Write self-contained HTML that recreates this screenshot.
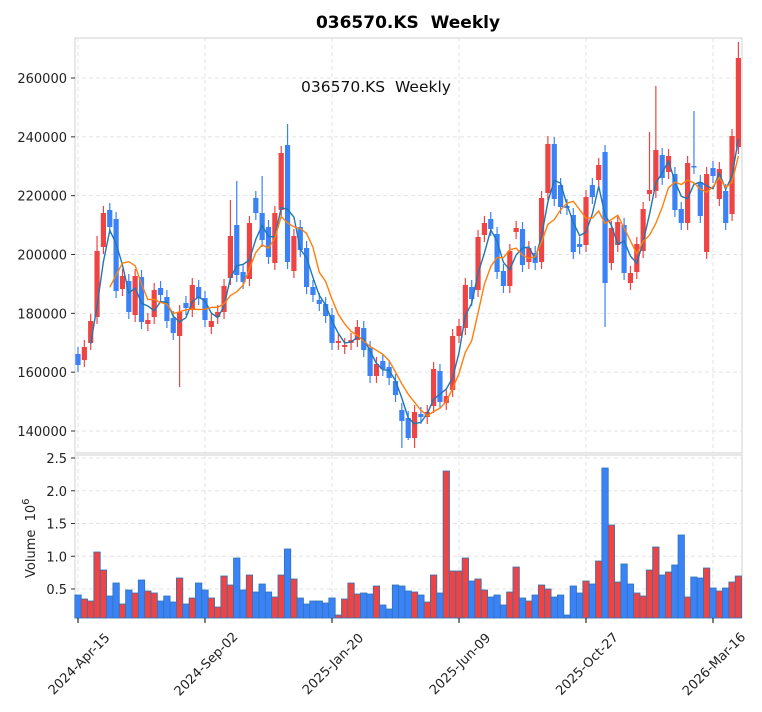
<!DOCTYPE html>
<html><head><meta charset="utf-8"><style>
body{margin:0;background:#fff;font-family:"Liberation Sans","DejaVu Sans",sans-serif}
</style></head><body>
<svg id="s" width="762" height="712" xmlns="http://www.w3.org/2000/svg" style="display:block">
<rect width="762" height="712" fill="#fff"/>
<text x="408" y="28" text-anchor="middle" font-size="17" font-weight="bold" fill="#000" font-family="DejaVu Sans, sans-serif">036570.KS&#160;&#160;Weekly</text>
<text x="376" y="92" text-anchor="middle" font-size="15.5" fill="#111" font-family="DejaVu Sans, sans-serif">036570.KS&#160;&#160;Weekly</text>
<g id="g"></g>
</svg>
<script>
const R='#ef4444',B='#3b82f6';
const c=[
['b',354,365],['r',347,360],['r',321,343],['r',251,317],['r',213,247],['b',210,227],['b',219,291],['r',276,289],['b',281,312],['r',276,315],
['b',277,322],['r',320,324],['r',290,317],['b',288,295],['b',297,321],['b',318,333],['r',312,336],['b',303,308],['r',285,310],['b',287,298],
['b',298,320],['r',321,327],['r',312,317],['r',286,312],['r',236,278],['b',225,275],['b',272,282],['r',223,279],['b',198,213],['b',213,240],
['b',227,257],['r',213,263],['r',153,210],['b',145,262],['r',236,271],['b',227,250],['b',248,287],['b',287,295],['b',300,304],['b',304,316],
['b',315,343],['r',341,343],['r',345,347],['r',340,343],['r',327,340],['b',328,350],['b',348,376],['r',364,376],['b',361,369],['b',367,378],
['b',381,395],['b',410,421],['b',418,438],['r',412,438],['b',414,417],['r',412,417],['r',369,406],['b',371,402],['r',396,403],['r',336,390],
['r',326,336],['r',285,328],['b',287,299],['r',237,290],['r',223,235],['b',219,229],['b',234,272],['b',271,286],['r',251,286],['r',228,232],
['b',229,265],['r',248,262],['b',253,263],['r',198,262],['r',144,193],['b',144,199],['b',185,207],['b',206,208],['b',215,252],['b',244,247],
['r',197,245],['b',185,197],['r',165,180],['b',152,283],['r',228,263],['r',222,245],['b',225,273],['r',273,283],['r',244,272],['r',209,251],
['r',190,194],['r',150,191],['b',155,178],['r',156,172],['b',174,210],['b',209,223],['r',163,223],['b',166,167],['b',182,216],['r',174,252],
['b',168,176],['r',169,199],['b',191,223],['r',136,214],['r',58,147]];
const wo={16:[null,387],33:[124,null],24:[200,null],25:[181,null],29:[176,null],51:[null,448],52:[null,440],53:[null,448],83:[null,327],91:[86,null],97:[111,null],104:[42,null],3:[236,null],74:[136,null],90:[132,null]};
const v=[['b',595],['r',599],['r',601],['r',552],['r',570],['b',596],['b',583],['r',604],['b',590],['r',593],['b',580],['r',591],['r',593],['b',601],['b',596],['b',602],['r',578],['b',604],['r',598],['b',583],['b',590],['r',598],['r',607],['r',576],['r',585],['b',558],['b',590],['r',575],['b',592],['b',584],['b',592],['r',597],['r',575],['b',549],['r',579],['b',598],['b',604],['b',601],['b',601],['b',603],['b',598],['r',615],['r',599],['r',583],['r',594],['b',593],['b',594],['r',586],['b',605],['b',609],['b',585],['b',586],
['b',591],['r',592],['b',595],['r',602],['r',575],['b',593],['r',471],['r',571],['r',571],['r',558],['b',581],['r',579],['r',590],['b',597],['b',595],['b',605],['r',592],['r',567],['b',598],['r',601],['b',595],['r',585],['r',589],['b',597],['b',595],['b',615],['b',586],['b',593],['r',581],['b',584],['r',561],['b',468],['r',525],['r',582],['b',564],['b',584],['r',593],['r',596],['r',570],['r',547],['b',575],['r',572],['b',565],['b',535],['r',597],['b',577],['b',578],['r',568],['b',588],['r',591],['b',588],['r',582],['r',576]];
const X=i=>78+i*6.35;
let h='';
const L=75,Rt=742;
h+=`<rect x="${L}" y="38" width="${Rt-L}" height="415" fill="none" stroke="#d0d0d0"/>`;
h+=`<rect x="${L}" y="455" width="${Rt-L}" height="163" fill="none" stroke="#d0d0d0"/>`;
const ticks=[[78,'2024-Apr-15'],[205,'2024-Sep-02'],[332,'2025-Jan-20'],[459,'2025-Jun-09'],[586,'2025-Oct-27'],[713,'2026-Mar-16']];
for(const [x] of ticks){h+=`<line x1="${x}" x2="${x}" y1="38" y2="453" stroke="#e3e3e3" stroke-dasharray="4,3"/><line x1="${x}" x2="${x}" y1="455" y2="618" stroke="#e3e3e3" stroke-dasharray="4,3"/>`;}
for(let k=0;k<7;k++){const y=431-k*58.83;h+=`<line x1="${L}" x2="${Rt}" y1="${y}" y2="${y}" stroke="#e3e3e3" stroke-dasharray="4,3"/><line x1="${L-4}" x2="${L}" y1="${y}" y2="${y}" stroke="#333"/><text x="${L-8}" y="${y+5}" text-anchor="end" font-size="13" fill="#222" font-family="DejaVu Sans, sans-serif">${140000+k*20000}</text>`;}
for(let k=0;k<5;k++){const y=589-k*32.75;h+=`<line x1="${L}" x2="${Rt}" y1="${y}" y2="${y}" stroke="#e3e3e3" stroke-dasharray="4,3"/><line x1="${L-4}" x2="${L}" y1="${y}" y2="${y}" stroke="#333"/><text x="${L-8}" y="${y+5}" text-anchor="end" font-size="13" fill="#222" font-family="DejaVu Sans, sans-serif">${(0.5+k*0.5).toFixed(1)}</text>`;}
v.forEach((b,i)=>{const x=X(i);h+=`<rect x="${x-3.2}" y="${b[1]}" width="6.4" height="${618-b[1]}" fill="${b[0]=='r'?R:B}" stroke="#2f74b5" stroke-width="0.8"/>`;});
c.forEach((b,i)=>{const x=X(i);const col=b[0]=='r'?R:B;const o=wo[i]||[];const hi=o[0]??b[1]-7,lo=o[1]??b[2]+7;
h+=`<line x1="${x}" x2="${x}" y1="${hi}" y2="${lo}" stroke="${col}" stroke-width="1.2"/><rect x="${x-2.6}" y="${b[1]}" width="5.2" height="${Math.max(1.5,b[2]-b[1])}" fill="${col}"/>`;});
const cl=c.map(b=>b[0]=='r'?b[1]:b[2]);
function ma(n,col){let p=[];for(let i=n-1;i<cl.length;i++){let s=0;for(let j=0;j<n;j++)s+=cl[i-j];p.push(X(i).toFixed(1)+','+(s/n).toFixed(1));}return `<polyline points="${p.join(' ')}" fill="none" stroke="${col}" stroke-width="1.4"/>`;}
h+=ma(3,'#1f77b4')+ma(6,'#ff7f0e');
for(const [x,t] of ticks){h+=`<line x1="${x}" x2="${x}" y1="618" y2="623" stroke="#000"/><text transform="translate(${x+4},${667}) rotate(-45)" text-anchor="middle" font-size="13" fill="#222" font-family="DejaVu Sans, sans-serif">${t}</text>`;}
h+=`<text transform="translate(35,578) rotate(-90)" font-size="13" fill="#222" font-family="DejaVu Sans, sans-serif" xml:space="preserve">Volume  10<tspan dy="-6" font-size="10">6</tspan></text>`;
document.getElementById('g').innerHTML=h;
</script>
</body></html>
